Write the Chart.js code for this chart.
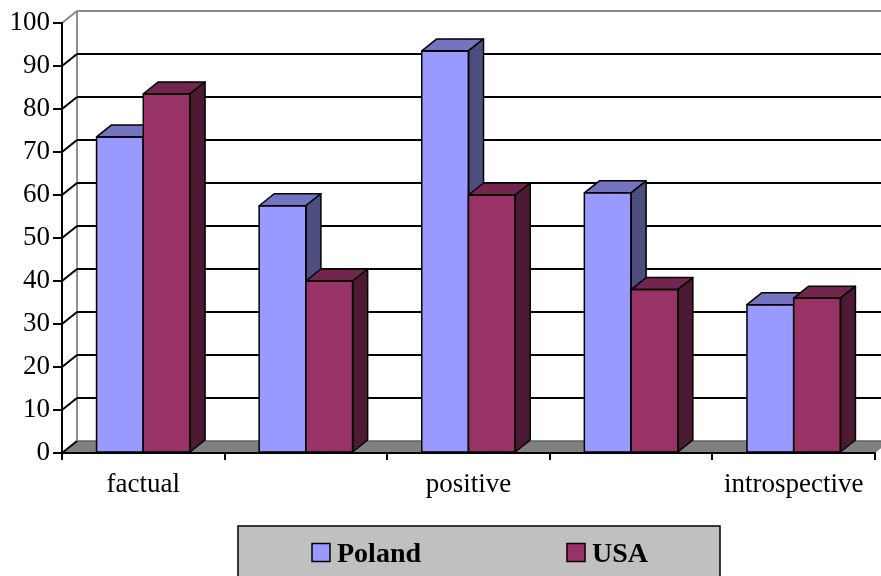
<!DOCTYPE html>
<html><head><meta charset="utf-8">
<script src="https://cdn.jsdelivr.net/npm/chart.js@4/dist/chart.umd.min.js"></script>
<style>html,body{margin:0;padding:0;background:#fff}#wrap{width:881px;height:576px}</style>
</head><body><div id="wrap"><canvas id="c" width="881" height="576"></canvas></div>
<script>
// ---- data ----
const categories = ["factual", "", "positive", "", "introspective"];
const seriesNames = ["Poland", "USA"];
const polandValues = [73.5, 57.5, 93.5, 60.5, 34.5];
const usaValues = [83.5, 40, 60, 38, 36];
const yMin = 0, yMax = 100, yStep = 10;

// ---- styling ----
const FONT = "'Liberation Serif', 'Times New Roman', serif";
const DX = 15, DY = 12; // 3D depth offset
const faceColors = [
  { front: '#9999FF', top: '#7373BF', side: '#4D4D80' },
  { front: '#993366', top: '#73264D', side: '#4D1A33' }
];

const threeD = {
  id: 'threeD',
  beforeDraw(chart) {
    const ctx = chart.ctx, ca = chart.chartArea, y = chart.scales.y;
    const L = ca.left, R = ca.right, B = ca.bottom;
    ctx.save();
    // floor
    ctx.beginPath();
    ctx.moveTo(L, B); ctx.lineTo(R, B); ctx.lineTo(R + DX, B - DY); ctx.lineTo(L + DX, B - DY); ctx.closePath();
    ctx.fillStyle = '#808080'; ctx.fill();
    ctx.strokeStyle = '#606060'; ctx.lineWidth = 1.5;
    ctx.beginPath(); ctx.moveTo(L + DX, B - DY); ctx.lineTo(R + DX, B - DY); ctx.stroke();
    // back wall left edge
    ctx.strokeStyle = '#909090'; ctx.lineWidth = 2;
    ctx.beginPath(); ctx.moveTo(L + DX, y.getPixelForValue(yMax) - DY); ctx.lineTo(L + DX, B - DY); ctx.stroke();
    // gridlines on back wall + diagonals on side wall
    for (let v = yMin; v <= yMax; v += yStep) {
      const py = y.getPixelForValue(v);
      const top = v === yMax;
      ctx.strokeStyle = top ? '#8a8a8a' : '#000';
      ctx.lineWidth = 2;
      if (v !== yMin) {
        ctx.beginPath(); ctx.moveTo(L + DX, py - DY); ctx.lineTo(chart.width, py - DY); ctx.stroke();
      }
      ctx.beginPath(); ctx.moveTo(L, py); ctx.lineTo(L + DX, py - DY); ctx.stroke();
    }
    ctx.restore();
  },
  afterDatasetsDraw(chart) {
    const ctx = chart.ctx;
    const metas = chart.data.datasets.map((d, i) => chart.getDatasetMeta(i));
    ctx.save();
    ctx.lineWidth = 1.5; ctx.strokeStyle = '#000'; ctx.lineJoin = 'round';
    for (let c = 0; c < chart.data.labels.length; c++) {
      metas.forEach((meta, di) => {
        const bar = meta.data[c];
        if (!bar) return;
        const col = faceColors[di];
        bar.draw(ctx);
        const p = bar.getProps(['x', 'y', 'base', 'width'], true);
        const l = p.x - p.width / 2, r = p.x + p.width / 2, t = p.y, b = p.base;
        ctx.save();
        ctx.lineWidth = 1.5; ctx.strokeStyle = '#000'; ctx.lineJoin = 'round';
        // top face
        ctx.beginPath();
        ctx.moveTo(l, t); ctx.lineTo(l + DX, t - DY); ctx.lineTo(r + DX, t - DY); ctx.lineTo(r, t); ctx.closePath();
        ctx.fillStyle = col.top; ctx.fill(); ctx.stroke();
        // side face
        ctx.beginPath();
        ctx.moveTo(r, t); ctx.lineTo(r + DX, t - DY); ctx.lineTo(r + DX, b - DY); ctx.lineTo(r, b); ctx.closePath();
        ctx.fillStyle = col.side; ctx.fill(); ctx.stroke();
        // front outline
        ctx.strokeRect(l, t, r - l, b - t);
        ctx.restore();
      });
    }
    ctx.restore();
  },
  afterDraw(chart) {
    const ctx = chart.ctx;
    ctx.save();
    // legend box
    const bx = 238, by = 526, bw = 482, bh = 60;
    ctx.fillStyle = '#C0C0C0'; ctx.fillRect(bx, by, bw, bh);
    ctx.strokeStyle = '#000'; ctx.lineWidth = 1.5; ctx.strokeRect(bx, by, bw, bh);
    const offs = [74, 329];
    ctx.font = 'bold 28px ' + FONT;
    ctx.textBaseline = 'alphabetic'; ctx.textAlign = 'left';
    chart.data.datasets.forEach((ds, i) => {
      const x = bx + offs[i];
      ctx.fillStyle = ds.backgroundColor;
      ctx.fillRect(x, 543.5, 18, 18);
      ctx.lineWidth = 1.5; ctx.strokeRect(x, 543.5, 18, 18);
      ctx.fillStyle = '#000';
      ctx.fillText(ds.label, x + 25, 562);
    });
    ctx.restore();
  }
};

new Chart(document.getElementById('c'), {
  type: 'bar',
  data: {
    labels: categories,
    datasets: [
      { label: seriesNames[0], data: polandValues, backgroundColor: faceColors[0].front, borderWidth: 0 },
      { label: seriesNames[1], data: usaValues, backgroundColor: faceColors[1].front, borderWidth: 0 }
    ]
  },
  options: {
    responsive: false,
    animation: false,
    devicePixelRatio: 1,
    layout: { padding: { top: 23, right: 6, bottom: 73, left: 0 } },
    datasets: { bar: { categoryPercentage: 0.575, barPercentage: 1 } },
    plugins: { legend: { display: false }, tooltip: { enabled: false } },
    scales: {
      x: {
        afterFit(s) { s.height = 50; },
        grid: { display: true, drawOnChartArea: false, drawTicks: true, tickLength: 7, color: '#000', lineWidth: 2, offset: true },
        border: { display: true, color: '#000', width: 2 },
        ticks: { autoSkip: false, maxRotation: 0, padding: 9, color: '#000', font: { family: FONT, size: 27 } }
      },
      y: {
        min: yMin, max: yMax,
        afterFit(s) { s.width = 62; },
        grid: { display: true, drawOnChartArea: false, drawTicks: true, tickLength: 9, color: '#000', lineWidth: 2 },
        border: { display: true, color: '#000', width: 2 },
        ticks: { stepSize: yStep, padding: 3, color: '#000', font: { family: FONT, size: 27 } }
      }
    }
  },
  plugins: [threeD]
});
</script>
</body></html>
